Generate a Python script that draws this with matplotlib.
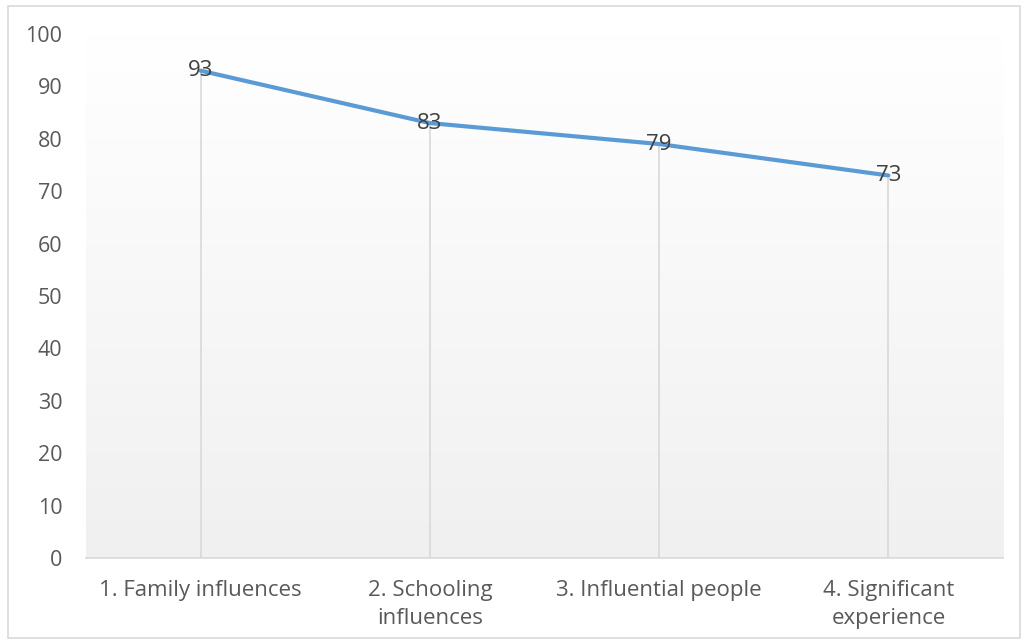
import numpy as np
import matplotlib.pyplot as plt
from matplotlib.patches import Rectangle
from matplotlib.colors import LinearSegmentedColormap

categories = ['1. Family influences', '2. Schooling\ninfluences',
              '3. Influential people', '4. Significant\nexperience']
values = [93, 83, 79, 73]

plt.rcParams['font.family'] = ['Open Sans', 'DejaVu Sans']

fig = plt.figure(figsize=(10.28, 6.44), dpi=100)
W, H = 1028, 644
ax = fig.add_axes([86 / W, 1 - 558 / H, (1003 - 86) / W, (558 - 34) / H])

x = np.arange(len(categories))

# gradient background like the Excel plot area
grad = np.linspace(1.0, 0.0, 256).reshape(-1, 1)
cmap = LinearSegmentedColormap.from_list('g', ['#f0f0f0', '#ffffff'])
ax.imshow(grad, extent=(-0.5, 3.5, 0, 100), aspect='auto', cmap=cmap, zorder=0, origin='upper')

# drop lines
ax.vlines(x, 0, values, color='#d9d9d9', lw=1.2, zorder=1)
ax.plot(x, values, color='#5b9bd5', lw=3, solid_capstyle='round', zorder=3)

for xi, v in zip(x, values):
    ax.text(xi, v, str(v), ha='center', va='center', fontsize=16, color='#404040', zorder=4)

ax.set_xlim(-0.5, 3.5)
ax.set_ylim(0, 100)
ax.set_yticks(range(0, 101, 10))
ax.set_xticks(x)
ax.set_xticklabels(categories, fontsize=16, color='#595959', linespacing=1.45)
ax.tick_params(axis='y', labelsize=15.5, colors='#595959', length=0, pad=17)
ax.tick_params(axis='x', length=0, pad=16)

for s in ['top', 'right', 'left']:
    ax.spines[s].set_visible(False)
ax.spines['bottom'].set_color('#d9d9d9')
ax.spines['bottom'].set_linewidth(1.2)

# chart border
fig.patches.append(Rectangle((8 / W, 6 / H), (1020 - 8) / W, (638 - 6) / H, transform=fig.transFigure,
                             fill=False, edgecolor='#d9d9d9', lw=1.2))

fig.savefig('out.png', dpi=100)
